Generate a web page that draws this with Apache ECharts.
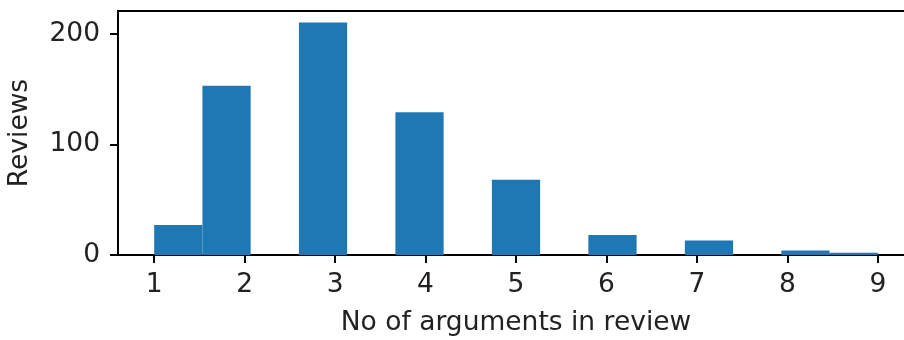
<!DOCTYPE html>
<html>
<head>
<meta charset="utf-8">
<script src="https://cdn.jsdelivr.net/npm/echarts@6/dist/echarts.min.js"></script>
<style>
  html, body { margin: 0; padding: 0; background: #fff; }
  #chart { width: 904px; height: 340px; }
</style>
</head>
<body>
<div id="chart"></div>
<script>
// Histogram of arguments per review: 15 equal bins spanning 1..9
const rangeLow = 1;
const rangeHigh = 9;
const binCounts = [27, 153, 0, 210, 0, 129, 0, 68, 0, 18, 0, 13, 0, 4, 2];
const xTicks = [1, 2, 3, 4, 5, 6, 7, 8, 9];
const yTicks = [0, 100, 200];

const binWidth = (rangeHigh - rangeLow) / binCounts.length;
const bars = binCounts.map((c, i) => [rangeLow + i * binWidth, rangeLow + (i + 1) * binWidth, c]);

const maxCount = Math.max(...binCounts);
const span = rangeHigh - rangeLow;

const font = '"DejaVu Sans", sans-serif';
const fs = 26.5;
const chart = echarts.init(document.getElementById('chart'), null, { renderer: 'canvas' });

chart.setOption({
  animation: false,
  grid: {
    left: 118, top: 11, bottom: 85, right: -10,
    outerBoundsMode: 'none',
    containLabel: false,
    show: true, borderColor: '#000', borderWidth: 2, backgroundColor: 'transparent'
  },
  xAxis: {
    type: 'value',
    min: rangeLow - span * 0.05,
    max: rangeHigh + span * 0.05,
    name: 'No of arguments in review',
    nameLocation: 'middle',
    nameGap: 55,
    nameMoveOverlap: false,
    nameTextStyle: { fontFamily: font, fontSize: fs, color: '#222' },
    splitLine: { show: false },
    axisLine: { show: true, onZero: false, lineStyle: { color: '#000', width: 2 } },
    axisTick: { show: true, length: 8, customValues: xTicks, lineStyle: { color: '#000', width: 2 } },
    axisLabel: { customValues: xTicks, fontFamily: font, fontSize: fs, color: '#222', margin: 17 }
  },
  yAxis: {
    type: 'value',
    min: 0,
    max: maxCount * 1.05,
    name: 'Reviews',
    nameLocation: 'middle',
    nameGap: 84,
    nameMoveOverlap: false,
    nameTextStyle: { fontFamily: font, fontSize: fs, color: '#222' },
    splitLine: { show: false },
    axisLine: { show: true, lineStyle: { color: '#000', width: 2 } },
    axisTick: { show: true, length: 8, customValues: yTicks, lineStyle: { color: '#000', width: 2 } },
    axisLabel: { customValues: yTicks, fontFamily: font, fontSize: fs, color: '#222', margin: 18 }
  },
  series: [{
    type: 'custom',
    data: bars,
    encode: { x: [0, 1], y: 2 },
    clip: true,
    renderItem: function (params, api) {
      const count = api.value(2);
      if (!count) return null;
      const p0 = api.coord([api.value(0), count]);
      const p1 = api.coord([api.value(1), 0]);
      return {
        type: 'rect',
        shape: { x: p0[0], y: p0[1], width: p1[0] - p0[0], height: p1[1] - p0[1] },
        style: { fill: '#1f77b4' }
      };
    }
  }]
});
</script>
</body>
</html>
